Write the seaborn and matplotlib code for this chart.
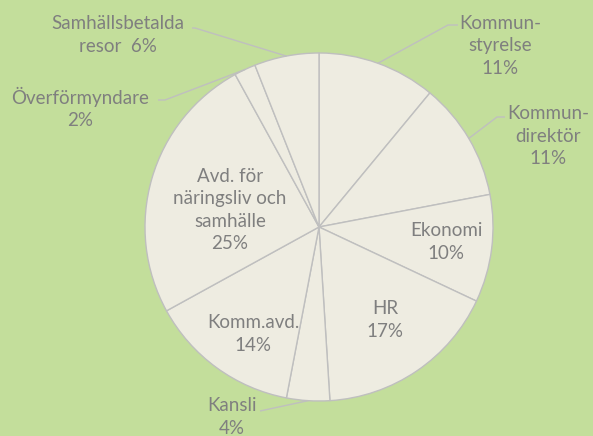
import numpy as np
import matplotlib
matplotlib.use("Agg")
import matplotlib.pyplot as plt
import seaborn as sns

categories = ["Kommun-\nstyrelse", "Kommun-\ndirektör", "Ekonomi", "HR", "Kansli",
              "Komm.avd.", "Avd. för\nnäringsliv och\nsamhälle", "Överförmyndare",
              "Samhällsbetalda\nresor "]
values = [11, 11, 10, 17, 4, 14, 25, 2, 6]

sns.set_theme(style="white")
plt.rcParams['font.family'] = ['Lato', 'DejaVu Sans']

W, H = 593, 436
BG = '#c3de9b'
SLICE = '#eeece1'
EDGE = '#bfbfbf'
TXT = '#7f7f7f'

fig = plt.figure(figsize=(W/100, H/100), dpi=100, facecolor=BG)
ax = fig.add_axes([0, 0, 1, 1])
ax.set_facecolor(BG)
ax.axis('off')

cx, cy, R = 319, H - 227, 174
wedges, _ = ax.pie(values, startangle=90, counterclock=False,
                   colors=[SLICE]*len(values), center=(cx, cy), radius=R,
                   wedgeprops=dict(edgecolor=EDGE, linewidth=1.0))
ax.set_xlim(0, W)
ax.set_ylim(0, H)
ax.set_aspect('equal')

# label layout: (x, y_img, elbow(x,y_img) or None, end(x,y_img) or None)
layout = [
    (500, 46, (448, 25), (458, 25)),
    (548, 136, (497, 117), (505, 117)),
    (446, 242, None, None),
    (385, 320, None, None),
    (232, 417, (260, 411), (260, 411)),
    (253, 334, None, None),
    (230, 210, None, None),
    (80, 108, (165, 100), (158, 100)),
    (118, 35, (195, 28), (192, 28)),
]

total = sum(values)
for w, cat, v, (lx, ly, elbow, end) in zip(wedges, categories, values, layout):
    sep = "  " if cat.endswith(" ") else "\n"
    txt = cat.rstrip() + sep + f"{round(100*v/total)}%"
    ax.text(lx, H - ly, txt, ha='center', va='center', color=TXT,
            fontsize=13.5, linespacing=1.38)
    if elbow is not None:
        th = np.deg2rad((w.theta1 + w.theta2) / 2)
        sx, sy = cx + R*np.cos(th), cy + R*np.sin(th)
        ax.plot([sx, elbow[0], end[0]], [sy, H - elbow[1], H - end[1]],
                color=EDGE, lw=1.0, solid_capstyle='butt')

fig.savefig("out.png", dpi=100, facecolor=BG)
